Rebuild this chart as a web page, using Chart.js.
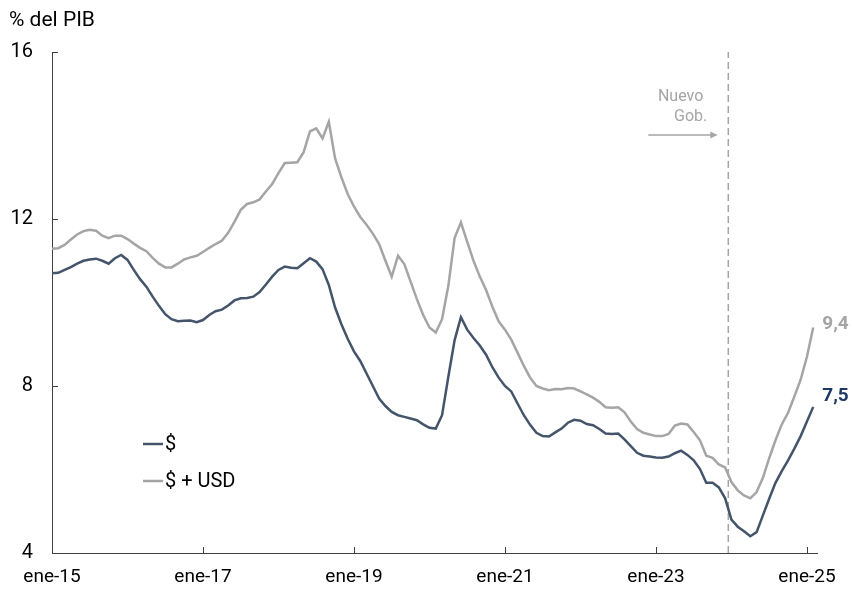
<!DOCTYPE html>
<html>
<head>
<meta charset="utf-8">
<script src="https://cdn.jsdelivr.net/npm/chart.js@4.4.1/dist/chart.umd.min.js"></script>
<style>
    html, body { margin: 0; padding: 0; background: #fff; }
    #wrap { width: 852px; height: 589px; position: relative; }
</style>
</head>
<body>
<div id="wrap"><canvas id="chart" width="852" height="589"></canvas></div>
<script>
const monthNames = ["ene", "feb", "mar", "abr", "may", "jun", "jul", "ago", "sep", "oct", "nov", "dic"];

// % del PIB, mensual desde ene-15
const pesos = [
    10.70, 10.71, 10.78, 10.85, 10.93, 11.00, 11.03, 11.05, 11.00, 10.93, 11.06, 11.14,
    11.02, 10.78, 10.56, 10.38, 10.14, 9.92, 9.72, 9.60, 9.55, 9.56, 9.57, 9.53,
    9.58, 9.70, 9.79, 9.83, 9.93, 10.05, 10.10, 10.11, 10.14, 10.25, 10.43, 10.62,
    10.78, 10.86, 10.83, 10.82, 10.94, 11.06, 10.98, 10.80, 10.42, 9.88, 9.48, 9.13,
    8.83, 8.60, 8.30, 8.00, 7.70, 7.52, 7.38, 7.30, 7.26, 7.22, 7.18, 7.08,
    7.00, 6.98, 7.30, 8.22, 9.10, 9.65, 9.35, 9.15, 8.97, 8.75, 8.45, 8.20,
    8.00, 7.87, 7.58, 7.30, 7.07, 6.88, 6.80, 6.79, 6.89, 6.98, 7.12, 7.19,
    7.17, 7.09, 7.06, 6.97, 6.86, 6.85, 6.86, 6.72, 6.56, 6.40, 6.33, 6.31,
    6.29, 6.28, 6.31, 6.39, 6.45, 6.35, 6.22, 6.01, 5.68, 5.68, 5.57, 5.31,
    4.80, 4.63, 4.52, 4.40, 4.50, 4.90, 5.30, 5.68, 5.96, 6.22, 6.50, 6.80,
    7.15, 7.50
];

const pesosUsd = [
    11.29, 11.30, 11.38, 11.51, 11.63, 11.71, 11.74, 11.72, 11.60, 11.54, 11.60, 11.60,
    11.52, 11.41, 11.31, 11.23, 11.07, 10.93, 10.84, 10.84, 10.93, 11.03, 11.08, 11.12,
    11.21, 11.31, 11.40, 11.48, 11.67, 11.93, 12.22, 12.36, 12.40, 12.47, 12.66, 12.84,
    13.10, 13.34, 13.35, 13.36, 13.60, 14.10, 14.17, 13.93, 14.33, 13.45, 13.00, 12.60,
    12.30, 12.05, 11.86, 11.65, 11.40, 11.00, 10.62, 11.12, 10.92, 10.50, 10.08, 9.70,
    9.40, 9.28, 9.60, 10.40, 11.55, 11.92, 11.45, 11.00, 10.62, 10.30, 9.90, 9.55,
    9.35, 9.11, 8.80, 8.48, 8.20, 8.00, 7.94, 7.90, 7.93, 7.92, 7.95, 7.94,
    7.87, 7.80, 7.72, 7.62, 7.49, 7.48, 7.49, 7.37, 7.15, 6.97, 6.88, 6.84,
    6.80, 6.80, 6.85, 7.05, 7.10, 7.08, 6.90, 6.70, 6.33, 6.28, 6.12, 6.05,
    5.70, 5.50, 5.38, 5.31, 5.46, 5.80, 6.27, 6.70, 7.08, 7.36, 7.75, 8.15,
    8.70, 9.40
];

const months = pesos.map((_, i) => `${monthNames[i % 12]}-${15 + Math.floor(i / 12)}`);
const xTicks = [0, 24, 48, 72, 96, 120];
const yTicks = [4, 8, 12, 16];
const govIndex = 107.5; // dic-23, asume el nuevo gobierno

const darkColor = "#44546A";
const greyColor = "#A5A5A5";
const axisColor = "#3f3f3f";
const font = "Roboto";

const toPoints = (values) => values.map((v, i) => ({ x: i, y: v }));

const extras = {
    id: "extras",
    afterDraw(chart) {
        const { ctx, chartArea, scales } = chart;
        const x = scales.x;
        const y = scales.y;
        ctx.save();

        // inner tick marks
        ctx.strokeStyle = axisColor;
        ctx.lineWidth = 1;
        ctx.beginPath();
        yTicks.forEach(v => {
            const py = Math.round(y.getPixelForValue(v)) + 0.5;
            ctx.moveTo(chartArea.left, py);
            ctx.lineTo(chartArea.left + 6, py);
        });
        xTicks.forEach(v => {
            const px = Math.round(x.getPixelForValue(v)) + 0.5;
            ctx.moveTo(px, chartArea.bottom);
            ctx.lineTo(px, chartArea.bottom - 6);
        });
        ctx.stroke();

        // axis title
        ctx.fillStyle = "#000";
        ctx.font = `21px ${font}`;
        ctx.textAlign = "left";
        ctx.textBaseline = "alphabetic";
        ctx.fillText("% del PIB", 9, 26);

        // legend
        const legend = [["$", darkColor, 444], ["$ + USD", greyColor, 481]];
        legend.forEach(([label, color, ly]) => {
            ctx.strokeStyle = color;
            ctx.lineWidth = 2.5;
            ctx.beginPath();
            ctx.moveTo(143, ly);
            ctx.lineTo(163, ly);
            ctx.stroke();
            ctx.fillStyle = "#000";
            ctx.font = `20px ${font}`;
            ctx.textBaseline = "middle";
            ctx.fillText(label, 165, ly + 1);
        });

        // new government note
        const gx = x.getPixelForValue(govIndex);
        ctx.fillStyle = greyColor;
        ctx.font = `16px ${font}`;
        ctx.textAlign = "right";
        ctx.textBaseline = "alphabetic";
        ctx.fillText("Nuevo", gx - 25, 101);
        ctx.fillText("Gob.", gx - 21, 121);
        const ay = 135;
        ctx.strokeStyle = greyColor;
        ctx.lineWidth = 1.5;
        ctx.beginPath();
        ctx.moveTo(gx - 80, ay);
        ctx.lineTo(gx - 12, ay);
        ctx.stroke();
        ctx.beginPath();
        ctx.moveTo(gx - 11, ay);
        ctx.lineTo(gx - 18, ay - 3.5);
        ctx.lineTo(gx - 18, ay + 3.5);
        ctx.closePath();
        ctx.fill();

        // end labels
        const last = pesos.length - 1;
        const lx = x.getPixelForValue(last) + 9;
        ctx.font = `bold 19px ${font}`;
        ctx.textAlign = "left";
        ctx.textBaseline = "middle";
        ctx.fillStyle = greyColor;
        ctx.fillText(pesosUsd[last].toFixed(1).replace(".", ","), lx, y.getPixelForValue(pesosUsd[last]) - 3);
        ctx.fillStyle = "#1F3864";
        ctx.fillText(pesos[last].toFixed(1).replace(".", ","), lx, y.getPixelForValue(pesos[last]) - 11);

        ctx.restore();
    }
};

new Chart(document.getElementById("chart"), {
    type: "line",
    data: {
        datasets: [
            {
                label: "$ + USD",
                data: toPoints(pesosUsd),
                borderColor: greyColor,
                borderWidth: 2.5,
                pointRadius: 0,
                tension: 0
            },
            {
                label: "$",
                data: toPoints(pesos),
                borderColor: darkColor,
                borderWidth: 2.5,
                pointRadius: 0,
                tension: 0
            },
            {
                label: "gob",
                data: [{ x: govIndex, y: 4 }, { x: govIndex, y: 16 }],
                borderColor: greyColor,
                borderWidth: 1.5,
                borderDash: [7, 4],
                pointRadius: 0
            }
        ]
    },
    options: {
        responsive: false,
        animation: false,
        events: [],
        layout: { padding: { top: 52, right: 35, left: 0, bottom: 0 } },
        plugins: {
            legend: { display: false },
            tooltip: { enabled: false }
        },
        scales: {
            x: {
                type: "linear",
                min: 0,
                max: 121.6,
                afterBuildTicks: (scale) => { scale.ticks = xTicks.map(v => ({ value: v })); },
                afterFit: (scale) => { scale.height = 36; },
                grid: { display: false, drawTicks: false },
                border: { display: true, color: axisColor, width: 1 },
                ticks: {
                    padding: 13,
                    maxRotation: 0,
                    autoSkip: false,
                    color: "#000",
                    font: { family: font, size: 19 },
                    callback: (v) => months[v]
                }
            },
            y: {
                min: 4,
                max: 16,
                afterBuildTicks: (scale) => { scale.ticks = yTicks.map(v => ({ value: v })); },
                afterFit: (scale) => { scale.width = 52; },
                grid: { display: false, drawTicks: false },
                border: { display: true, color: axisColor, width: 1 },
                ticks: {
                    padding: 19,
                    color: "#000",
                    font: { family: font, size: 20 }
                }
            }
        }
    },
    plugins: [extras]
});
</script>
</body>
</html>
